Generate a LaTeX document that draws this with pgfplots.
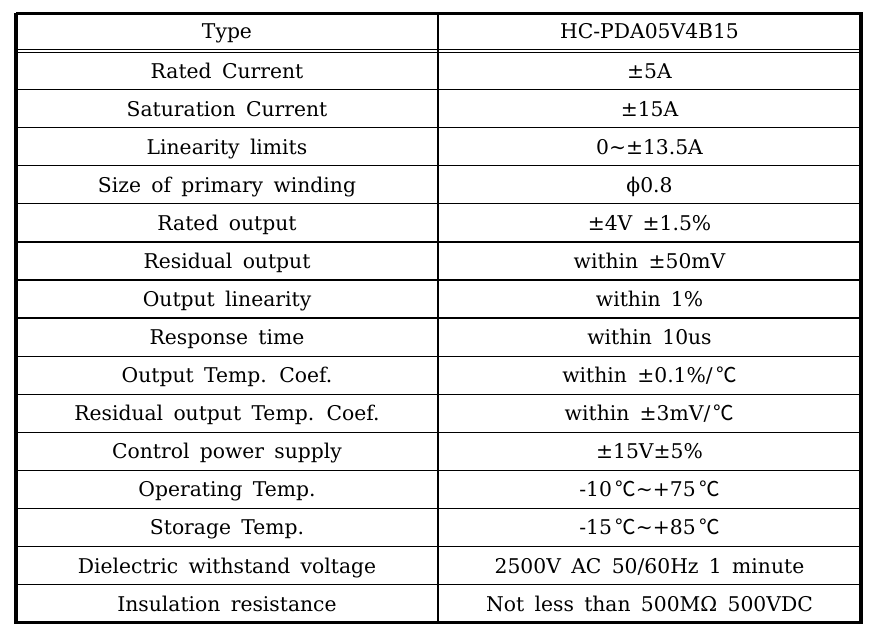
\documentclass[border=0pt]{standalone}
\usepackage{fontspec}
\usepackage{pgfplots}
\pgfplotsset{compat=1.18}
\setmainfont[WordSpace=1.6]{DejaVu Serif}
\newfontfamily\cjk{Noto Sans CJK SC}
\newcommand\dc{{\cjk\fontsize{20.5bp}{22bp}\selectfont\,℃}}
\tikzset{tab/.style={font=\fontsize{20.3bp}{24bp}\selectfont,anchor=base,inner sep=0pt}}
\begin{document}
\begin{tikzpicture}
\begin{axis}[width=869bp,height=637bp,scale only axis,
  xmin=0,xmax=869,ymin=0,ymax=637,y dir=reverse,hide axis,clip=false]
\path[use as bounding box] (axis cs:0,0) rectangle (axis cs:869,637);
% thin horizontal rules
\addplot[black,line width=1.2bp,forget plot] coordinates {(16,49.6) (861,49.6)};
\addplot[black,line width=1.2bp,forget plot] coordinates {(16,52.4) (861,52.4)};
\addplot[black,line width=1.2bp,forget plot,unbounded coords=jump] table[row sep=\\] {
x y\\ 16 89.6\\ 861 89.6\\ nan nan\\
16 127.7\\ 861 127.7\\ nan nan\\
16 165.8\\ 861 165.8\\ nan nan\\
16 203.8\\ 861 203.8\\ nan nan\\
16 241.9\\ 861 241.9\\ nan nan\\
16 280.0\\ 861 280.0\\ nan nan\\
16 318.0\\ 861 318.0\\ nan nan\\
16 356.1\\ 861 356.1\\ nan nan\\
16 394.2\\ 861 394.2\\ nan nan\\
16 432.3\\ 861 432.3\\ nan nan\\
16 470.3\\ 861 470.3\\ nan nan\\
16 508.4\\ 861 508.4\\ nan nan\\
16 546.5\\ 861 546.5\\ nan nan\\
16 584.5\\ 861 584.5\\ nan nan\\
};
\addplot[black,line width=1.2bp,forget plot] coordinates {(438,13.5) (438,622.5)};
% outer frame
\addplot[black,line width=3.6bp,forget plot] coordinates {(16,13.5) (861,13.5) (861,622.5) (16,622.5) (16,13.5)};
% text
\node[tab] at (axis cs:227,39) {Type};
\node[tab] at (axis cs:649.5,39) {HC-PDA05V4B15};
\node[tab] at (axis cs:227,78.1) {Rated Current};
\node[tab] at (axis cs:649.5,78.1) {±5A};
\node[tab] at (axis cs:227,116.2) {Saturation Current};
\node[tab] at (axis cs:649.5,116.2) {±15A};
\node[tab] at (axis cs:227,154.2) {Linearity limits};
\node[tab] at (axis cs:649.5,154.2) {0\textasciitilde±13.5A};
\node[tab] at (axis cs:227,192.3) {Size of primary winding};
\node[tab] at (axis cs:649.5,192.3) {ϕ0.8};
\node[tab] at (axis cs:227,230.4) {Rated output};
\node[tab] at (axis cs:649.5,230.4) {±4V ±1.5\%};
\node[tab] at (axis cs:227,268.4) {Residual output};
\node[tab] at (axis cs:649.5,268.4) {within ±50mV};
\node[tab] at (axis cs:227,306.5) {Output linearity};
\node[tab] at (axis cs:649.5,306.5) {within 1\%};
\node[tab] at (axis cs:227,344.6) {Response time};
\node[tab] at (axis cs:649.5,344.6) {within 10us};
\node[tab] at (axis cs:227,382.7) {Output Temp. Coef.};
\node[tab] at (axis cs:649.5,382.7) {within ±0.1\%/\dc};
\node[tab] at (axis cs:227,420.7) {Residual output Temp. Coef.};
\node[tab] at (axis cs:649.5,420.7) {within ±3mV/\dc};
\node[tab] at (axis cs:227,458.8) {Control power supply};
\node[tab] at (axis cs:649.5,458.8) {±15V±5\%};
\node[tab] at (axis cs:227,496.9) {Operating Temp.};
\node[tab] at (axis cs:649.5,496.9) {-10\dc\textasciitilde+75\dc};
\node[tab] at (axis cs:227,534.9) {Storage Temp.};
\node[tab] at (axis cs:649.5,534.9) {-15\dc\textasciitilde+85\dc};
\node[tab] at (axis cs:227,573.0) {Dielectric withstand voltage};
\node[tab] at (axis cs:649.5,573.0) {2500V AC 50/60Hz 1 minute};
\node[tab] at (axis cs:227,611.1) {Insulation resistance};
\node[tab] at (axis cs:649.5,611.1) {Not less than 500MΩ 500VDC};
\end{axis}
\end{tikzpicture}
\end{document}
